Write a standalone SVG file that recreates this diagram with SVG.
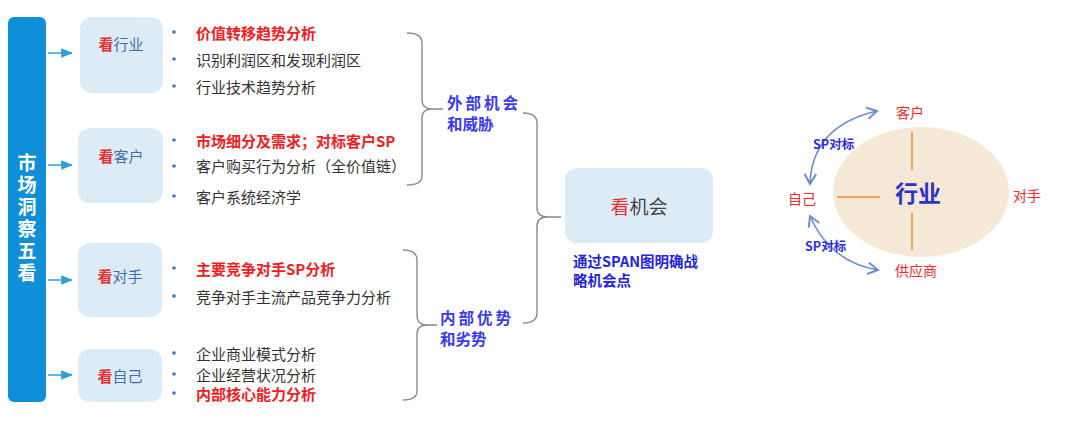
<svg xmlns="http://www.w3.org/2000/svg" width="1080" height="433" viewBox="0 0 1080 433">
<defs>
<style>
text{font-family:"Noto Sans CJK SC","Noto Sans",sans-serif;dominant-baseline:central}
.box{fill:#dcebf6}
.nt{font-size:15px;fill:#3f6fae}
.kan{fill:#e8302e;font-weight:bold}
.it{font-size:15px;fill:#333}
.hi{font-size:15px;fill:#f02020;font-weight:bold}
.dot{fill:#3a78c0}
.brace{fill:none;stroke:#8a8a8a;stroke-width:1.4}
.lab{font-size:15.5px;fill:#3a3af0;font-weight:bold}
.arr{fill:none;stroke:#2aa0dc;stroke-width:1.5}
.ol{stroke:#f4a259;stroke-width:2}
.red{font-size:14px;fill:#ee2a2a}
.sp{font-size:12.5px;fill:#3030e0;font-weight:bold}
.arc{fill:none;stroke:#6d8fcf;stroke-width:1.6}
</style>
<marker id="ah" viewBox="0 0 10 10" refX="9" refY="5" markerWidth="8" markerHeight="8" orient="auto">
<path d="M0,1 L10,5 L0,9 Z" fill="#2aa0dc"/>
</marker>
<marker id="ah2" viewBox="0 0 10 10" refX="8" refY="5" markerWidth="9" markerHeight="9" orient="auto-start-reverse">
<path d="M1,1 L8,5 L1,9" fill="none" stroke="#6d8fcf" stroke-width="1.4"/>
</marker>
</defs>
<rect width="1080" height="433" fill="#ffffff"/>

<g id="bar">
<rect x="8" y="17" width="38" height="385" rx="6" fill="#0f8fd8"/>
<text x="27" y="153" writing-mode="tb" font-size="19" font-weight="bold" fill="#ffffff" letter-spacing="3">市场洞察五看</text>
</g>

<g id="connectors">
<line class="arr" x1="48" y1="53" x2="72" y2="53" marker-end="url(#ah)"/>
<line class="arr" x1="48" y1="165" x2="72" y2="165" marker-end="url(#ah)"/>
<line class="arr" x1="48" y1="280" x2="72" y2="280" marker-end="url(#ah)"/>
<line class="arr" x1="48" y1="375" x2="72" y2="375" marker-end="url(#ah)"/>
<path class="brace" d="M407,33 Q422,33 422,43 L422,100 Q422,109 432,109 L443,109 M432,109 Q422,109 422,118 L422,176 Q422,185 407,185"/>
<path class="brace" d="M403,250 Q417,250 417,260 L417,316 Q417,325 427,325 L437,325 M427,325 Q417,325 417,334 L417,391 Q417,400 403,400"/>
<path class="brace" d="M523,113 Q537,113 537,123 L537,208 Q537,217 548,217 L561,217 M548,217 Q537,217 537,226 L537,313 Q537,323 523,323"/>
</g>

<g id="node-industry">
<rect class="box" x="80" y="17" width="83" height="76" rx="12"/>
<text class="nt" x="121" y="43" text-anchor="middle"><tspan class="kan">看</tspan>行业</text>
</g>
<g id="node-customer">
<rect class="box" x="78" y="128" width="85" height="75" rx="12"/>
<text class="nt" x="121" y="155" text-anchor="middle"><tspan class="kan">看</tspan>客户</text>
</g>
<g id="node-competitor">
<rect class="box" x="78" y="243" width="84" height="74" rx="12"/>
<text class="nt" x="120" y="275" text-anchor="middle"><tspan class="kan">看</tspan>对手</text>
</g>
<g id="node-self">
<rect class="box" x="78" y="349" width="84" height="53" rx="12"/>
<text class="nt" x="120" y="375" text-anchor="middle"><tspan class="kan">看</tspan>自己</text>
</g>

<g id="items">
<circle class="dot" cx="174" cy="32" r="1.8"/><text class="hi" x="196" y="32">价值转移趋势分析</text>
<circle class="dot" cx="174" cy="59" r="1.8"/><text class="it" x="196" y="59">识别利润区和发现利润区</text>
<circle class="dot" cx="174" cy="86" r="1.8"/><text class="it" x="196" y="86">行业技术趋势分析</text>
<circle class="dot" cx="174" cy="140" r="1.8"/><text class="hi" x="196" y="140">市场细分及需求；对标客户SP</text>
<circle class="dot" cx="174" cy="166" r="1.8"/><text class="it" x="196" y="165">客户购买行为分析（全价值链）</text>
<circle class="dot" cx="174" cy="196" r="1.8"/><text class="it" x="196" y="196">客户系统经济学</text>
<circle class="dot" cx="174" cy="268" r="1.8"/><text class="hi" x="196" y="268">主要竞争对手SP分析</text>
<circle class="dot" cx="174" cy="296" r="1.8"/><text class="it" x="196" y="296">竞争对手主流产品竞争力分析</text>
<circle class="dot" cx="174" cy="353" r="1.8"/><text class="it" x="196" y="353">企业商业模式分析</text>
<circle class="dot" cx="174" cy="374" r="1.8"/><text class="it" x="196" y="374">企业经营状况分析</text>
<circle class="dot" cx="174" cy="393" r="1.8"/><text class="hi" x="196" y="393">内部核心能力分析</text>
</g>

<g id="label-external">
<text class="lab" x="447" y="102" letter-spacing="3">外部机会</text>
<text class="lab" x="447" y="123">和威胁</text>
</g>
<g id="label-internal">
<text class="lab" x="440" y="317" letter-spacing="3">内部优势</text>
<text class="lab" x="440" y="338">和劣势</text>
</g>

<g id="node-opportunity">
<rect class="box" x="565" y="168" width="148" height="75" rx="12"/>
<text x="639" y="205" text-anchor="middle" font-size="19" fill="#444"><tspan fill="#e8302e">看</tspan>机会</text>
<text x="573" y="260" font-size="14.5" font-weight="bold" fill="#2424dd">通过SPAN图明确战</text>
<text x="573" y="279" font-size="14.5" font-weight="bold" fill="#2424dd">略机会点</text>
</g>

<g id="industry-map">
<ellipse cx="921" cy="192" rx="88" ry="65" fill="#f6e8d6"/>
<line class="ol" x1="912" y1="132" x2="912" y2="170"/>
<line class="ol" x1="837" y1="197" x2="880" y2="197"/>
<line class="ol" x1="912" y1="213" x2="912" y2="250"/>
<text x="918" y="192" text-anchor="middle" font-size="23" font-weight="bold" fill="#2a35c8">行业</text>
<text class="red" x="910" y="112" text-anchor="middle">客户</text>
<text class="red" x="1027" y="195" text-anchor="middle">对手</text>
<text class="red" x="802" y="198" text-anchor="middle">自己</text>
<text class="red" x="916" y="270" text-anchor="middle">供应商</text>
<path class="arc" d="M810,184 Q812,126 877,111" marker-start="url(#ah2)" marker-end="url(#ah2)"/>
<path class="arc" d="M810,216 Q830,262 878,270" marker-start="url(#ah2)" marker-end="url(#ah2)"/>
<text class="sp" x="813" y="143">SP对标</text>
<text class="sp" x="805" y="245">SP对标</text>
</g>
</svg>
